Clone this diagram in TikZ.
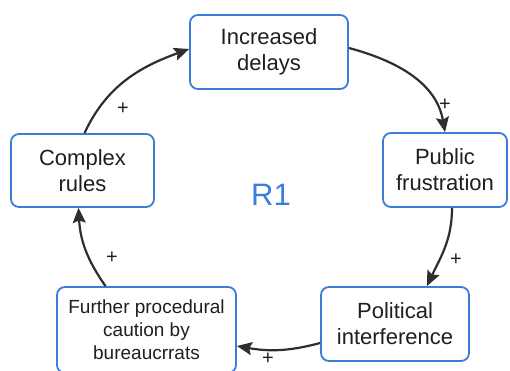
\documentclass[tikz,border=0pt]{standalone}
\usepackage{fontspec}
\setmainfont{Liberation Sans}
\usetikzlibrary{arrows.meta, positioning}
\definecolor{loopBlue}{HTML}{3B7DDD}
\definecolor{arrowDark}{HTML}{2E2E2E}
\definecolor{textDark}{HTML}{1F1F1F}

\begin{document}
\begin{tikzpicture}[x=1pt, y=1pt,
    varbox/.style={rectangle, rounded corners=8pt, draw=loopBlue, line width=1.8pt,
                   fill=white, align=center, text=textDark, inner sep=0pt,
                   font=\fontsize{22}{26}\selectfont},
    link/.style={-{Stealth[length=15pt, width=13pt, inset=2.5pt]}, line width=2.2pt,
                 arrowDark},
    sign/.style={font=\fontsize{20}{20}\selectfont, text=textDark, inner sep=0pt},
  ]
    \useasboundingbox (0,0) rectangle (510,371);
    % ─── Variables ───
    \node[varbox, minimum width=158pt, minimum height=74pt] (delays) at (269,319)
      {Increased\\delays};
    \node[varbox, minimum width=124pt, minimum height=74pt] (frustr) at (445,201)
      {Public\\frustration};
    \node[varbox, minimum width=148pt, minimum height=74pt] (political) at (395,47)
      {Political\\interference};
    \node[varbox, minimum width=179pt, minimum height=86pt,
          font=\fontsize{19}{23}\selectfont] (further) at (146.5,41)
      {Further procedural\\caution by\\bureaucrrats};
    \node[varbox, minimum width=143pt, minimum height=73pt] (complex) at (82.5,200.5)
      {Complex\\rules};
    % Loop name
    \node[font=\fontsize{31}{31}\selectfont, text=loopBlue] (loop) at (271,176) {R1};

    % ─── Links ───
    \draw[link] ([yshift=4pt]delays.east) to[out=-15, in=100] (frustr.north);
    \node[sign] (s1) at (445,266) {+};
    \draw[link] ([xshift=7pt]frustr.south) to[out=-90, in=65] ([xshift=32pt]political.north);
    \node[sign] (s2) at (456,111) {+};
    \draw[link] ([yshift=-19pt]political.west) to[out=195, in=-10] ([yshift=-16pt]further.east);
    \node[sign] (s3) at (268,12) {+};
    \draw[link] ([xshift=-41pt]further.north) to[out=125, in=-87] ([xshift=-4pt]complex.south);
    \node[sign] (s4) at (112,113) {+};
    \draw[link] ([xshift=2pt]complex.north) to[out=65, in=200] ([yshift=3pt]delays.west);
    \node[sign] (s5) at (123,262) {+};
\end{tikzpicture}
\end{document}
